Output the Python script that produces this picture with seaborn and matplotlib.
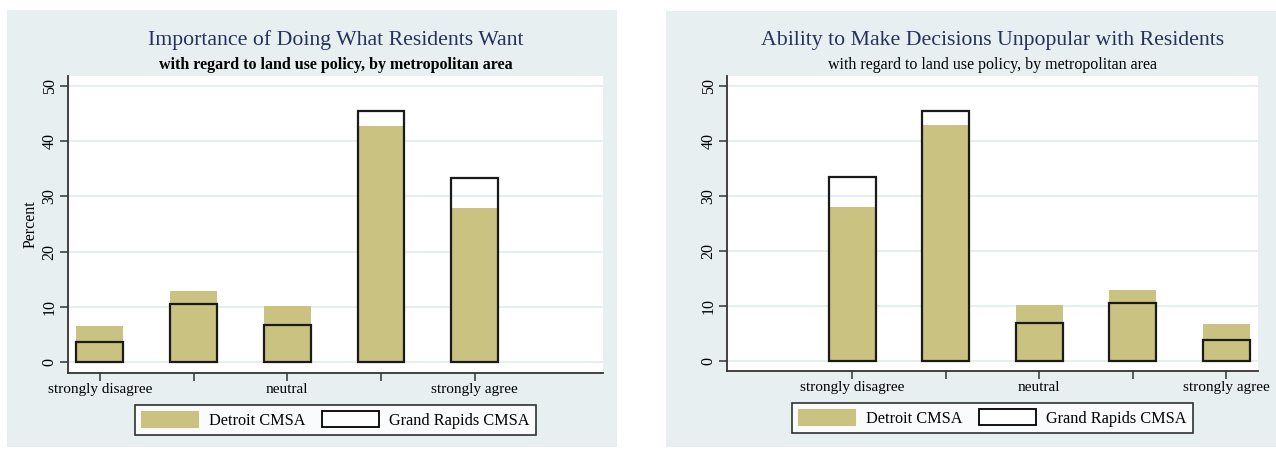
import matplotlib
matplotlib.use("Agg")
import matplotlib.pyplot as plt
from matplotlib.patches import Rectangle, Patch
import seaborn as sns
import pandas as pd

# ---------------- data ----------------
categories = ["strongly disagree", "disagree", "neutral", "agree", "strongly agree"]
tick_labels = ["strongly disagree", "", "neutral", "", "strongly agree"]
series_names = ["Detroit CMSA", "Grand Rapids CMSA"]

left_title = "Importance of Doing What Residents Want"
right_title = "Ability to Make Decisions Unpopular with Residents"
subtitle = "with regard to land use policy, by metropolitan area"

left_detroit = [6.6, 12.9, 10.1, 42.8, 27.9]
left_grand_rapids = [3.7, 10.5, 6.8, 45.5, 33.4]
right_detroit = [27.9, 42.8, 10.1, 12.9, 6.6]
right_grand_rapids = [33.4, 45.5, 6.8, 10.5, 3.7]

y_ticks = [0, 10, 20, 30, 40, 50]

# ---------------- style ----------------
plt.rcParams['font.family'] = ['Liberation Serif', 'DejaVu Serif']
KHAKI = "#c9c281"
PANEL = "#e8eff1"
GRID = "#e6eef0"
TITLE_C = "#24325e"
AXC = "#333333"

W, H = 1276, 449
fig = plt.figure(figsize=(W / 100, H / 100), dpi=100)
fig.patch.set_facecolor("white")

# panel backgrounds
fig.patches.append(Rectangle((7 / W, 2 / H), 610 / W, 437 / H, transform=fig.transFigure,
                             facecolor=PANEL, edgecolor="none", zorder=-10))
fig.patches.append(Rectangle((666 / W, 2 / H), 610 / W, 436 / H, transform=fig.transFigure,
                             facecolor=PANEL, edgecolor="none", zorder=-10))


def make_axes(x0, x1, top, bottom):
    return fig.add_axes([x0 / W, (H - bottom) / H, (x1 - x0) / W, (bottom - top) / H])


def draw_panel(ax, det, gr, title, sub, sub_weight, xlim, ylabel):
    df = pd.DataFrame({"category": categories, "detroit": det, "grand_rapids": gr})
    sns.barplot(data=df, x="category", y="detroit", order=categories, color=KHAKI,
                saturation=1, width=0.5, edgecolor="none", linewidth=0, ax=ax, zorder=2)
    sns.barplot(data=df, x="category", y="grand_rapids", order=categories, color="#1a1a1a",
                fill=False, width=0.5, linewidth=1.6, ax=ax, zorder=3)
    ax.set_facecolor("white")
    ax.set_xlim(*xlim)
    ax.set_ylim(-1.9, 51.8)
    ax.set_yticks(y_ticks)
    ax.set_yticklabels([str(t) for t in y_ticks], rotation=90, va="center", fontsize=11.5)
    ax.set_xticks(range(len(categories)))
    ax.set_xticklabels(tick_labels, fontsize=11)
    ax.tick_params(axis="both", direction="out", length=6, width=1.1, color=AXC)
    ax.tick_params(axis="x", pad=1.5)
    ax.tick_params(axis="y", pad=1.5)
    ax.grid(axis="y", color=GRID, linewidth=1.5, zorder=0)
    ax.grid(axis="x", visible=False)
    ax.set_axisbelow(True)
    for s in ["top", "right"]:
        ax.spines[s].set_visible(False)
    for s in ["left", "bottom"]:
        ax.spines[s].set_color(AXC)
        ax.spines[s].set_linewidth(1.3)
    ax.set_xlabel("")
    ax.set_ylabel(ylabel, fontsize=11.5, labelpad=2)
    ax.text(0.5, 1.121, title, transform=ax.transAxes, ha="center", va="center",
            fontsize=15.7, color=TITLE_C)
    ax.text(0.5, 1.037, sub, transform=ax.transAxes, ha="center", va="center",
            fontsize=11.5, color="black", fontweight=sub_weight)
    handles = [Patch(facecolor=KHAKI, edgecolor=KHAKI, linewidth=0.8),
               Patch(facecolor="white", edgecolor="black", linewidth=1.3)]
    leg = ax.legend(handles, series_names, ncol=2, loc="upper center",
                    bbox_to_anchor=(0.5, -0.108), frameon=True, fancybox=False,
                    edgecolor="black", fontsize=11.7, handlelength=3.5, handleheight=1.1,
                    columnspacing=1.0, handletextpad=0.65, borderpad=0.4,
                    borderaxespad=0)
    leg.get_frame().set_linewidth(1.2)
    leg.get_frame().set_facecolor("white")


ax1 = make_axes(68, 603, 76, 372.7)
draw_panel(ax1, left_detroit, left_grand_rapids, left_title, subtitle, "bold",
           (-0.34, 5.37), "Percent")

ax2 = make_axes(727, 1258, 76, 371)
draw_panel(ax2, right_detroit, right_grand_rapids, right_title, subtitle, "normal",
           (-1.34, 4.34), "")

fig.savefig("out.png", dpi=100, facecolor="white")
